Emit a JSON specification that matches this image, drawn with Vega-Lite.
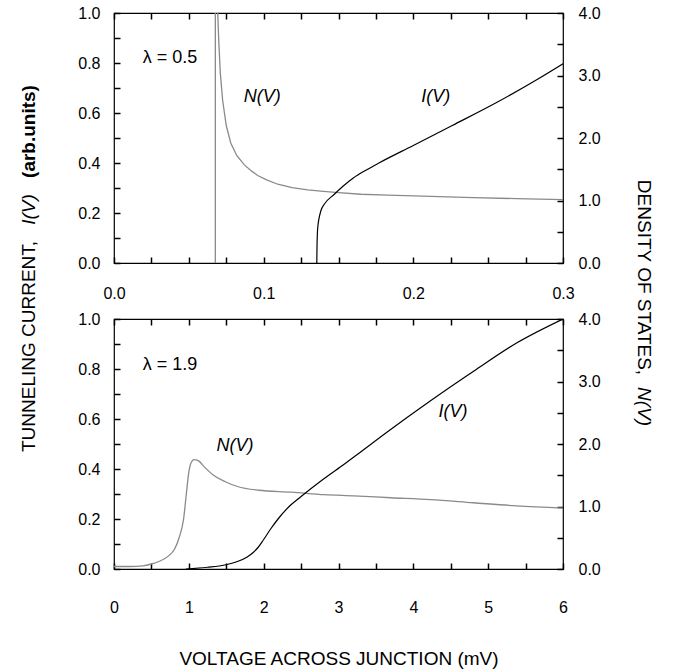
{
  "$schema": "https://vega.github.io/schema/vega-lite/v6.json",
  "background": "white",
  "padding": {"left": 18, "top": 4, "right": 5, "bottom": 5},
  "config": {
    "font": "Liberation Sans",
    "view": {"stroke": "black", "strokeWidth": 1.2},
    "axis": {
      "grid": false,
      "domain": false,
      "ticks": true,
      "offset": -6,
      "tickColor": "black",
      "tickWidth": 1.5,
      "tickSize": 6,
      "labelColor": "black",
      "labelFont": "Liberation Sans",
      "labelFontSize": 16,
      "titleFont": "Liberation Sans",
      "titleFontSize": 19,
      "titleFontWeight": "normal",
      "titleColor": "black",
      "labelOverlap": false,
      "labelFlush": false,
      "labelBound": false
    },
    "text": {"font": "Liberation Sans", "fontSize": 18, "color": "black"}
  },
  "bounds": "flush",
  "spacing": 56,
  "vconcat": [
    {
      "width": 449,
      "height": 250,
      "resolve": {"scale": {"y": "independent"}, "axis": {"x": "independent", "y": "independent"}},
      "layer": [
        {
          "data": {"values": [
            {"V": 0.0677, "N": 0}, {"V": 0.0677, "N": 4.6}, {"V": 0.0688, "N": 4.6},
            {"V": 0.0693, "N": 4.0}, {"V": 0.0700, "N": 3.55}, {"V": 0.0710, "N": 3.05},
            {"V": 0.0726, "N": 2.6}, {"V": 0.0750, "N": 2.2}, {"V": 0.0780, "N": 1.92},
            {"V": 0.0820, "N": 1.72}, {"V": 0.0871, "N": 1.57}, {"V": 0.0920, "N": 1.47},
            {"V": 0.0960, "N": 1.40}, {"V": 0.1020, "N": 1.33}, {"V": 0.1094, "N": 1.26},
            {"V": 0.1190, "N": 1.205}, {"V": 0.1294, "N": 1.17}, {"V": 0.140, "N": 1.145},
            {"V": 0.150, "N": 1.125}, {"V": 0.165, "N": 1.10}, {"V": 0.183, "N": 1.085},
            {"V": 0.212, "N": 1.065}, {"V": 0.240, "N": 1.045}, {"V": 0.269, "N": 1.03},
            {"V": 0.3, "N": 1.015}
          ]},
          "mark": {"type": "line", "color": "#8a8a8a", "strokeWidth": 1.3, "clip": true},
          "encoding": {
            "order": {"value": null},
            "x": {"field": "V", "type": "quantitative", "scale": {"domain": [0, 0.3], "nice": false, "zero": false},
              "axis": {"orient": "top", "labels": false,
                "values": [0, 0.025, 0.05, 0.075, 0.1, 0.125, 0.15, 0.175, 0.2, 0.225, 0.25, 0.275, 0.3],
                "title": "I(V)", "titleFontStyle": "italic", "titleAngle": -90, "titleX": -80, "titleY": 190,
                "titleAlign": "center", "titleBaseline": "alphabetic"}},
            "y": {"field": "N", "type": "quantitative", "scale": {"domain": [0, 4], "nice": false},
              "axis": {"orient": "right", "values": [0, 0.5, 1, 1.5, 2, 2.5, 3, 3.5, 4],
                "labelExpr": "datum.value % 1 == 0 ? format(datum.value, '.1f') : ''",
                "labelPadding": 15,
                "title": "DENSITY OF STATES,", "titleAngle": 90, "titleX": 80, "titleY": 264,
                "titleAlign": "center", "titleBaseline": "alphabetic"}}
          }
        },
        {
          "data": {"values": [
            {"V": 0.1355, "I": 0}, {"V": 0.1356, "I": 0.05}, {"V": 0.1361, "I": 0.14},
            {"V": 0.1383, "I": 0.21}, {"V": 0.1405, "I": 0.235}, {"V": 0.1472, "I": 0.275},
            {"V": 0.1530, "I": 0.307}, {"V": 0.1599, "I": 0.340}, {"V": 0.1680, "I": 0.370},
            {"V": 0.177, "I": 0.40}, {"V": 0.2, "I": 0.47},
            {"V": 0.226, "I": 0.55}, {"V": 0.255, "I": 0.64}, {"V": 0.283, "I": 0.735},
            {"V": 0.3, "I": 0.797}
          ]},
          "mark": {"type": "line", "color": "black", "strokeWidth": 1.2, "clip": true, "interpolate": "monotone"},
          "encoding": {
            "order": {"value": null},
            "x": {"field": "V", "type": "quantitative", "scale": {"domain": [0, 0.3], "nice": false, "zero": false},
              "axis": {"orient": "bottom",
                "values": [0, 0.025, 0.05, 0.075, 0.1, 0.125, 0.15, 0.175, 0.2, 0.225, 0.25, 0.275, 0.3],
                "labelExpr": "abs(datum.value*10 - round(datum.value*10)) < 0.000001 ? format(datum.value, '.1f') : ''",
                "labelPadding": 22, "title": null}},
            "y": {"field": "I", "type": "quantitative", "scale": {"domain": [0, 1], "nice": false},
              "axis": {"orient": "left", "values": [0, 0.1, 0.2, 0.3, 0.4, 0.5, 0.6, 0.7, 0.8, 0.9, 1.0],
                "labelExpr": "abs(datum.value*5 - round(datum.value*5)) < 0.000001 ? format(datum.value, '.1f') : ''",
                "labelPadding": 14,
                "title": "(arb.units)", "titleFontWeight": "bold", "titleAngle": -90, "titleX": -86, "titleY": 118,
                "titleAlign": "center", "titleBaseline": "alphabetic"}}
          }
        },
        {
          "data": {"values": [{"V": 0.0374, "I": 0.82, "label": "λ = 0.5"}]},
          "mark": {"type": "text", "align": "center", "baseline": "middle"},
          "encoding": {
            "x": {"field": "V", "type": "quantitative", "scale": {"domain": [0, 0.3], "nice": false, "zero": false}, "axis": null},
            "y": {"field": "I", "type": "quantitative", "scale": {"domain": [0, 1], "nice": false}, "axis": null},
            "text": {"field": "label"}
          }
        },
        {
          "data": {"values": [
            {"V": 0.099, "I": 0.664, "label": "N(V)"},
            {"V": 0.215, "I": 0.664, "label": "I(V)"}
          ]},
          "mark": {"type": "text", "align": "center", "baseline": "middle", "fontStyle": "italic"},
          "encoding": {
            "x": {"field": "V", "type": "quantitative", "scale": {"domain": [0, 0.3], "nice": false, "zero": false}, "axis": null},
            "y": {"field": "I", "type": "quantitative", "scale": {"domain": [0, 1], "nice": false}, "axis": null},
            "text": {"field": "label"}
          }
        }
      ]
    },
    {
      "width": 449,
      "height": 250,
      "resolve": {"scale": {"y": "independent"}, "axis": {"x": "independent", "y": "independent"}},
      "layer": [
        {
          "data": {"values": [
            {"V": 0, "N": 0.04}, {"V": 0.21, "N": 0.04}, {"V": 0.385, "N": 0.05},
            {"V": 0.5, "N": 0.08}, {"V": 0.6, "N": 0.12}, {"V": 0.73, "N": 0.21},
            {"V": 0.81, "N": 0.32}, {"V": 0.87, "N": 0.5}, {"V": 0.93, "N": 0.8},
            {"V": 0.97, "N": 1.24}, {"V": 1.0, "N": 1.55}, {"V": 1.03, "N": 1.70},
            {"V": 1.07, "N": 1.75}, {"V": 1.13, "N": 1.73}, {"V": 1.21, "N": 1.63},
            {"V": 1.33, "N": 1.5}, {"V": 1.48, "N": 1.4}, {"V": 1.65, "N": 1.32},
            {"V": 1.93, "N": 1.26}, {"V": 2.37, "N": 1.23}, {"V": 2.81, "N": 1.19},
            {"V": 3.2, "N": 1.17}, {"V": 3.7, "N": 1.14}, {"V": 4.23, "N": 1.11},
            {"V": 4.8, "N": 1.06}, {"V": 5.38, "N": 1.01}, {"V": 6.0, "N": 0.975}
          ]},
          "mark": {"type": "line", "color": "#8a8a8a", "strokeWidth": 1.3, "clip": true, "interpolate": "monotone"},
          "encoding": {
            "order": {"value": null},
            "x": {"field": "V", "type": "quantitative", "scale": {"domain": [0, 6], "nice": false},
              "axis": {"orient": "top", "labels": false,
                "values": [0, 0.5, 1, 1.5, 2, 2.5, 3, 3.5, 4, 4.5, 5, 5.5, 6], "title": null}},
            "y": {"field": "N", "type": "quantitative", "scale": {"domain": [0, 4], "nice": false},
              "axis": {"orient": "right", "values": [0, 0.5, 1, 1.5, 2, 2.5, 3, 3.5, 4],
                "labelExpr": "datum.value % 1 == 0 ? format(datum.value, '.1f') : ''",
                "labelPadding": 15,
                "title": "N(V)", "titleFontStyle": "italic", "titleAngle": 90, "titleX": 80, "titleY": 87,
                "titleAlign": "center", "titleBaseline": "alphabetic"}}
          }
        },
        {
          "data": {"values": [
            {"V": 0.96, "I": 0}, {"V": 1.25, "I": 0.007}, {"V": 1.48, "I": 0.016},
            {"V": 1.65, "I": 0.03}, {"V": 1.78, "I": 0.048}, {"V": 1.86, "I": 0.066},
            {"V": 1.93, "I": 0.088}, {"V": 2.0, "I": 0.118}, {"V": 2.1, "I": 0.163},
            {"V": 2.2, "I": 0.203}, {"V": 2.34, "I": 0.25}, {"V": 2.5, "I": 0.29},
            {"V": 2.8, "I": 0.36}, {"V": 3.08, "I": 0.42}, {"V": 3.26, "I": 0.46},
            {"V": 3.66, "I": 0.55}, {"V": 4.23, "I": 0.673}, {"V": 4.81, "I": 0.792},
            {"V": 5.38, "I": 0.904}, {"V": 6.0, "I": 1.0}
          ]},
          "mark": {"type": "line", "color": "black", "strokeWidth": 1.2, "clip": true, "interpolate": "monotone"},
          "encoding": {
            "order": {"value": null},
            "x": {"field": "V", "type": "quantitative", "scale": {"domain": [0, 6], "nice": false},
              "axis": {"orient": "bottom", "values": [0, 0.5, 1, 1.5, 2, 2.5, 3, 3.5, 4, 4.5, 5, 5.5, 6],
                "labelExpr": "datum.value % 1 == 0 ? format(datum.value, 'd') : ''",
                "labelPadding": 30,
                "title": "VOLTAGE ACROSS JUNCTION (mV)", "titleX": 224.5, "titleY": 101,
                "titleAlign": "center", "titleBaseline": "alphabetic"}},
            "y": {"field": "I", "type": "quantitative", "scale": {"domain": [0, 1], "nice": false},
              "axis": {"orient": "left", "values": [0, 0.1, 0.2, 0.3, 0.4, 0.5, 0.6, 0.7, 0.8, 0.9, 1.0],
                "labelExpr": "abs(datum.value*5 - round(datum.value*5)) < 0.000001 ? format(datum.value, '.1f') : ''",
                "labelPadding": 14,
                "title": "TUNNELING CURRENT,", "titleAngle": -90, "titleX": -86, "titleY": 27,
                "titleAlign": "center", "titleBaseline": "alphabetic"}}
          }
        },
        {
          "data": {"values": [{"V": 0.748, "I": 0.818, "label": "λ = 1.9"}]},
          "mark": {"type": "text", "align": "center", "baseline": "middle"},
          "encoding": {
            "x": {"field": "V", "type": "quantitative", "scale": {"domain": [0, 6], "nice": false}, "axis": null},
            "y": {"field": "I", "type": "quantitative", "scale": {"domain": [0, 1], "nice": false}, "axis": null},
            "text": {"field": "label"}
          }
        },
        {
          "data": {"values": [
            {"V": 1.617, "I": 0.491, "label": "N(V)"},
            {"V": 4.53, "I": 0.627, "label": "I(V)"}
          ]},
          "mark": {"type": "text", "align": "center", "baseline": "middle", "fontStyle": "italic"},
          "encoding": {
            "x": {"field": "V", "type": "quantitative", "scale": {"domain": [0, 6], "nice": false}, "axis": null},
            "y": {"field": "I", "type": "quantitative", "scale": {"domain": [0, 1], "nice": false}, "axis": null},
            "text": {"field": "label"}
          }
        }
      ]
    }
  ]
}
